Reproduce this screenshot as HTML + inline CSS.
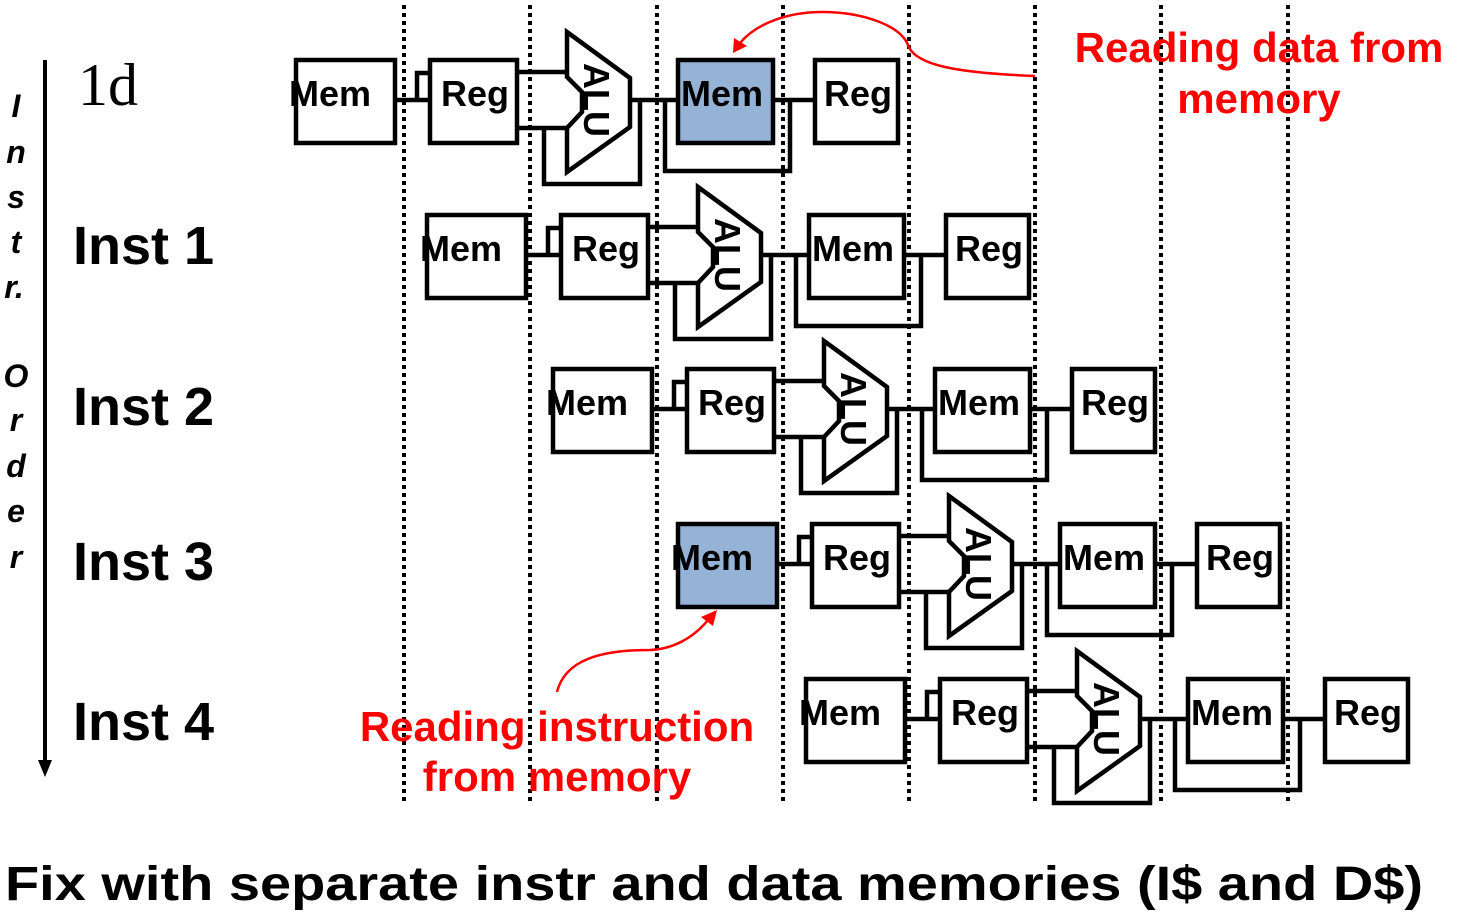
<!DOCTYPE html>
<html><head><meta charset="utf-8"><style>
html,body{margin:0;padding:0;background:#fff;}
svg{display:block;}
text{font-family:"Liberation Sans",Arial,sans-serif;}
</style></head><body>
<svg width="1470" height="920" viewBox="0 0 1470 920" xmlns="http://www.w3.org/2000/svg">
<defs>
<g id="row">
  <rect x="296" y="60" width="99" height="83" fill="var(--f1,#fff)" stroke="#000" stroke-width="4.5"/>
  <text x="289" y="106" font-size="36" font-weight="bold">Mem</text>
  <polyline points="395,100 430,100" fill="none" stroke="#000" stroke-width="4.5"/>
  <polyline points="417,100 417,73 430,73" fill="none" stroke="#000" stroke-width="4.5"/>
  <rect x="430" y="60" width="87" height="83" fill="#fff" stroke="#000" stroke-width="4.5"/>
  <text x="441" y="106" font-size="36" font-weight="bold">Reg</text>
  <line x1="517" y1="72" x2="567" y2="72" stroke="#000" stroke-width="4.5"/>
  <line x1="517" y1="128" x2="567" y2="128" stroke="#000" stroke-width="4.5"/>
  <polyline points="544,128 544,184 640,184 640,100" fill="none" stroke="#000" stroke-width="4.5"/>
  <polygon points="567,32 630,78 630,127 567,172 567,128 582,112 582,100 582,92 567,77" fill="#fff" stroke="#000" stroke-width="4.5"/>
  <text transform="translate(584,100) rotate(90)" x="0" y="0" font-size="36" font-weight="bold" text-anchor="middle">ALU</text>
  <line x1="630" y1="100" x2="678" y2="100" stroke="#000" stroke-width="4.5"/>
  <polyline points="665,100 665,171 790,171 790,100" fill="none" stroke="#000" stroke-width="4.5"/>
  <rect x="678" y="60" width="95" height="83" fill="var(--f2,#fff)" stroke="#000" stroke-width="4.5"/>
  <text x="681" y="106" font-size="36" font-weight="bold">Mem</text>
  <line x1="773" y1="100" x2="815" y2="100" stroke="#000" stroke-width="4.5"/>
  <rect x="815" y="60" width="83" height="83" fill="#fff" stroke="#000" stroke-width="4.5"/>
  <text x="824" y="106" font-size="36" font-weight="bold">Reg</text>
</g>
</defs>

<g stroke="#000" stroke-width="4" stroke-dasharray="4,4">
  <line x1="404" y1="5" x2="404" y2="805"/>
  <line x1="530" y1="5" x2="530" y2="805"/>
  <line x1="657" y1="5" x2="657" y2="805"/>
  <line x1="783" y1="5" x2="783" y2="805"/>
  <line x1="909" y1="5" x2="909" y2="805"/>
  <line x1="1035" y1="5" x2="1035" y2="805"/>
  <line x1="1161" y1="5" x2="1161" y2="805"/>
  <line x1="1288" y1="5" x2="1288" y2="805"/>
</g>

<use href="#row" style="--f2:#95b3d7"/>
<use href="#row" transform="translate(131,155)"/>
<use href="#row" transform="translate(257,309)"/>
<use href="#row" transform="translate(382,464)" style="--f1:#95b3d7"/>
<use href="#row" transform="translate(510,619)"/>

<line x1="45" y1="60" x2="45" y2="762" stroke="#000" stroke-width="4"/>
<polygon points="38,760 52,760 45,777" fill="#000"/>
<g font-size="32" font-weight="bold" font-style="italic" text-anchor="middle">
  <text x="16" y="117">I</text>
  <text x="16" y="163">n</text>
  <text x="16" y="208">s</text>
  <text x="16" y="253">t</text>
  <text x="14" y="298">r.</text>
  <text x="16" y="387">O</text>
  <text x="16" y="431">r</text>
  <text x="16" y="477">d</text>
  <text x="16" y="522">e</text>
  <text x="16" y="568">r</text>
</g>
<text x="78" y="105" font-size="60" style="font-family:'Liberation Serif',serif">1d</text>
<g font-size="54" font-weight="bold">
  <text x="73" y="264">Inst 1</text>
  <text x="73" y="425">Inst 2</text>
  <text x="73" y="580">Inst 3</text>
  <text x="73" y="740">Inst 4</text>
</g>

<g fill="#f00" font-size="42" font-weight="bold" text-anchor="middle">
  <text x="1259" y="62">Reading data from</text>
  <text x="1259" y="113">memory</text>
  <text x="557" y="741">Reading instruction</text>
  <text x="557" y="791">from memory</text>
</g>
<path d="M1035,76 C960,73 915,66 908,45 C900,25 862,12 822,12 C785,12 755,25 740,43" fill="none" stroke="#f00" stroke-width="2.5"/>
<polygon points="733,53 734,38 747,46" fill="#f00"/>
<path d="M557,692 C565,660 600,650 650,650 C675,649 695,636 708,620" fill="none" stroke="#f00" stroke-width="2.5"/>
<polygon points="717,610 713,626 701,617" fill="#f00"/>

<text x="5" y="900" font-size="48" font-weight="bold" textLength="1418" lengthAdjust="spacingAndGlyphs">Fix with separate instr and data memories (I$ and D$)</text>
</svg>
</body></html>
